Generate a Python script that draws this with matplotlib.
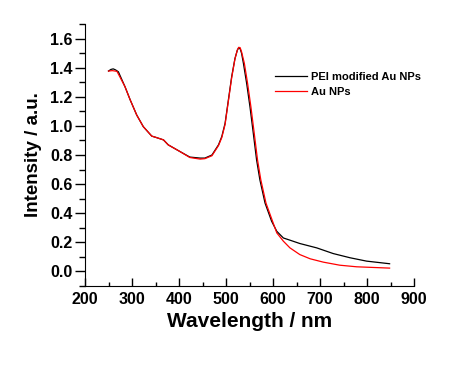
import numpy as np
import matplotlib
matplotlib.use('Agg')
import matplotlib.pyplot as plt
from matplotlib.ticker import MultipleLocator

# spettri UV-vis
wl_pei = [250, 255, 260, 265, 271, 285, 296, 310, 324, 342, 352, 367, 377, 402, 423, 445,
          455, 470, 484, 491, 498, 505, 512, 519, 524, 527, 530, 533, 537, 544, 551, 558,
          565, 572, 583, 597, 608, 622, 636, 657, 693, 728, 764, 799, 848]
int_pei = [1.377, 1.388, 1.392, 1.385, 1.372, 1.27, 1.18, 1.075, 0.995, 0.93, 0.92, 0.904, 0.87, 0.824, 0.786, 0.779,
           0.779, 0.80, 0.87, 0.927, 1.018, 1.178, 1.338, 1.463, 1.52, 1.538, 1.53, 1.50, 1.43, 1.29, 1.13, 0.95,
           0.767, 0.63, 0.47, 0.345, 0.276, 0.23, 0.215, 0.192, 0.162, 0.123, 0.094, 0.071, 0.053]

wl_au = [250, 258, 268, 285, 296, 310, 324, 342, 352, 367, 377, 402, 423, 445,
         455, 470, 484, 491, 498, 505, 512, 519, 524, 527, 530, 533, 536, 539, 546, 553, 560,
         567, 574, 585, 599, 608, 622, 636, 657, 679, 707, 742, 778, 848]
int_au = [1.377, 1.38, 1.375, 1.27, 1.18, 1.075, 0.995, 0.93, 0.92, 0.904, 0.87, 0.824, 0.783, 0.772,
          0.775, 0.795, 0.865, 0.92, 1.01, 1.17, 1.33, 1.46, 1.52, 1.54, 1.538, 1.51, 1.47, 1.43, 1.29, 1.13, 0.95,
          0.767, 0.63, 0.47, 0.345, 0.265, 0.208, 0.162, 0.116, 0.087, 0.064, 0.043, 0.032, 0.023]

plt.rcParams['font.family'] = ['Liberation Sans', 'DejaVu Sans']
plt.rcParams['font.weight'] = 'bold'

fig = plt.figure(figsize=(4.57, 3.70), dpi=100)
ax = fig.add_axes([0.186, 0.227, 0.72, 0.708])

ax.plot(wl_pei, int_pei, color='black', lw=0.9, label='PEI modified Au NPs')
ax.plot(wl_au, int_au, color='red', lw=0.9, label='Au NPs')

ax.set_xlim(200, 900)
ax.set_ylim(-0.1, 1.7)
ax.xaxis.set_major_locator(MultipleLocator(100))
ax.xaxis.set_minor_locator(MultipleLocator(50))
ax.yaxis.set_major_locator(MultipleLocator(0.2))
ax.yaxis.set_minor_locator(MultipleLocator(0.1))

ax.spines['top'].set_visible(False)
ax.spines['right'].set_visible(False)
ax.tick_params(axis='x', which='major', direction='in', length=6, width=1, labelsize=11.5, pad=4)
ax.tick_params(axis='x', which='minor', direction='in', length=3, width=1)
ax.tick_params(axis='y', which='major', direction='out', length=7, width=1, labelsize=11.5, pad=2)
ax.tick_params(axis='y', which='minor', direction='out', length=4, width=1)
for lab in ax.get_xticklabels() + ax.get_yticklabels():
    lab.set_fontweight('bold')

ax.set_xlabel('Wavelength / nm', fontsize=15, fontweight='bold', labelpad=4)
ax.set_ylabel('Intensity / a.u.', fontsize=13.5, fontweight='bold', labelpad=6)

fig.legend(loc='upper left', bbox_to_anchor=(0.602, 0.805), frameon=False,
           prop={'size': 8, 'weight': 'bold'}, handlelength=2.9, handletextpad=0.3,
           labelspacing=0.4, borderpad=0, borderaxespad=0)

fig.savefig('out.png', dpi=100)
